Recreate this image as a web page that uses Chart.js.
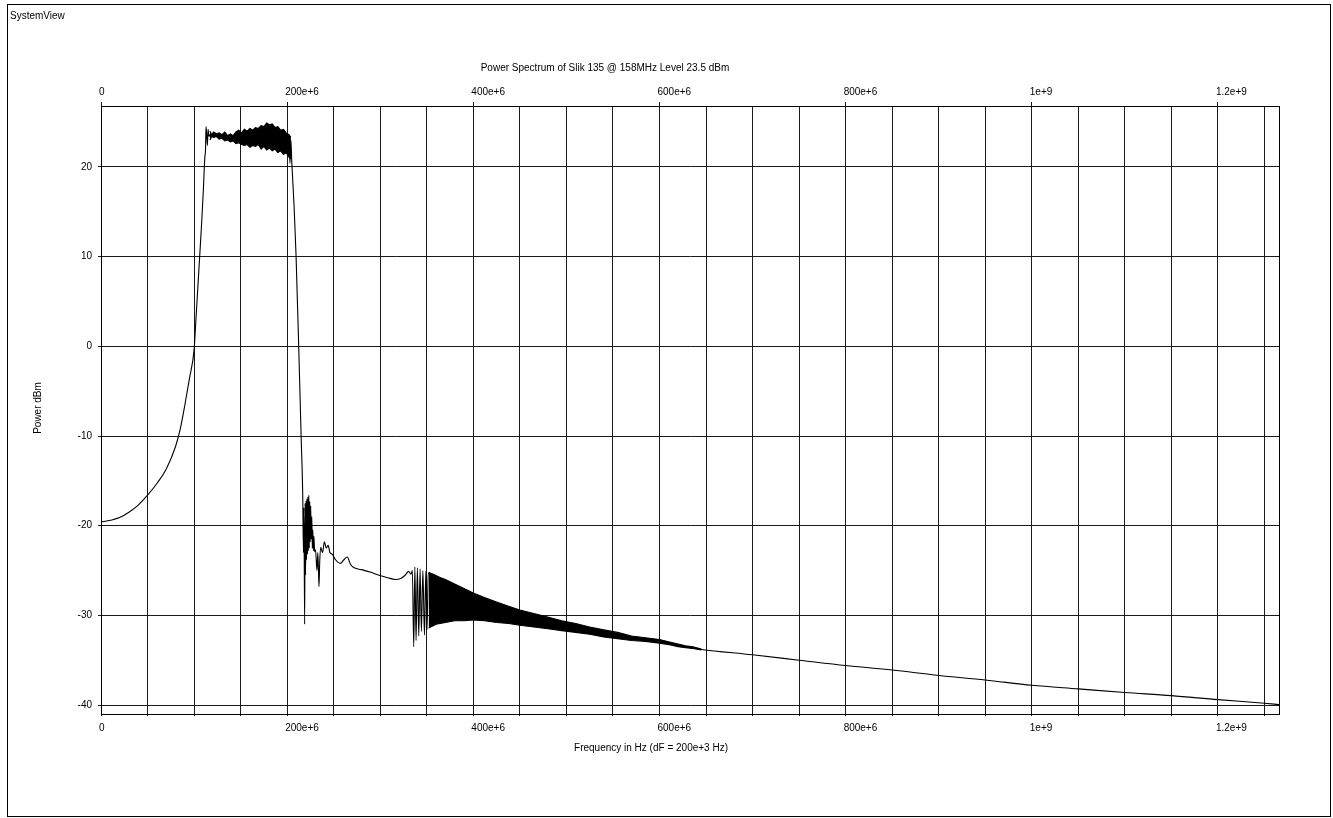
<!DOCTYPE html>
<html>
<head>
<meta charset="utf-8">
<script src="https://cdn.jsdelivr.net/npm/chart.js@4/dist/chart.umd.min.js"></script>
<style>
html,body{margin:0;padding:0;background:#fff;overflow:hidden;}
canvas{display:block;}
</style>
</head>
<body>
<canvas id="c" width="1333" height="818"></canvas>
<script>
// ---- texts ----
const appLabel = 'SystemView';
const chartTitle = 'Power Spectrum of Slik 135 @ 158MHz Level 23.5 dBm';
const xTitle = 'Frequency in Hz (dF = 200e+3 Hz)';
const yTitle = 'Power dBm';

// ---- axis ticks ----
const xTickValues = [0, 200e6, 400e6, 600e6, 800e6, 1e9, 1.2e9];
const xTickLabels = ['0', '200e+6', '400e+6', '600e+6', '800e+6', '1e+9', '1.2e+9'];
const yTickValues = [20, 10, 0, -10, -20, -30, -40];
const yTickLabels = ['20', '10', '0', '-10', '-20', '-30', '-40'];

// ---- main trace (frequency in MHz, power in dBm) ----
const mainFreqMHz = [
  0,10,20,30,40,50,60,70,80,85,90,95,100,102,104,106,108,110,111.5,112.3,112.8,113.5,114.3,115,116,117,
  130,160,190,200,202,203,204,205,207.5,209.6,212.4,215,216.7,
  217.5,218,218.8,219.3,219.8,220.3,220.8,221.3,221.8,222.3,222.8,223.3,223.8,224.3,224.8,225.3,225.8,226.5,227,227.6,228.2,228.8,229.5,230.5,232,233,234.2,235,236,238,240,242,244,246,248.5,
  252,257,261,264.5,268,272,280,290,298,308,316,322,327,330.5,333,
  334.5,336,337.2,338.5,339.9,341.4,342.8,344.2,345.8,347.5,349,350.3,351.5,
  400,450,500,550,600,626,
  645,700,750,800,850,900,950,1000,1050,1100,1150,1200,1250,1265.6
];
const mainPower = [
  -19.6,-19.4,-19.1,-18.5,-17.7,-16.6,-15.3,-13.7,-11.2,-9.3,-6.6,-3.6,-0.4,3,6.5,10,13.5,17.5,21,22,24.5,23.6,22.4,24.2,23.4,23.6,
  23.4,23.3,23.2,22.7,23.4,20.4,23.0,20.5,15.5,10,0,-10,-16.4,
  -23,-18,-31.0,-17.5,-25.5,-17.2,-23.8,-17.0,-23.2,-16.8,-22.8,-16.6,-22.5,-17.3,-21.8,-17.8,-21.5,-19,-22.5,-20.5,-22.8,-21.2,-22.9,-22.7,-25,-23,-26.8,-24,-22.4,-23,-21.8,-22.5,-22.2,-23,-23.2,
  -23.8,-24.2,-23.8,-23.5,-24.3,-24.7,-24.9,-25.2,-25.5,-25.8,-26.0,-25.9,-25.5,-25.1,-25.4,
  -25.0,-33.5,-24.6,-32.8,-24.7,-32.3,-24.8,-31.8,-25.0,-32.2,-25.1,-31.6,-25.3,
  -29.0,-30.3,-31.3,-32.2,-32.9,-33.5,
  -33.8,-34.4,-35.0,-35.6,-36.1,-36.7,-37.2,-37.8,-38.2,-38.6,-38.95,-39.4,-39.8,-39.95
];

// ---- passband noise envelope ----
const passFreqMHz = [117,119,121,124,127,130,133,136,139,142,145,148,151,154,157,160,163,166,169,172,175,178,181,184,187,190,193,196,199,202,204];
const passUpper = [24.0,23.6,23.9,23.7,23.8,23.6,23.9,23.5,23.7,23.5,23.9,24.1,23.8,24.2,24.0,24.3,24.1,24.4,24.3,24.6,24.5,24.9,24.7,24.8,24.4,24.5,24.1,24.2,23.8,23.6,23.3];
const passLower = [23.0,23.4,23.3,23.4,23.1,23.2,22.9,23.0,22.8,22.9,22.6,22.7,22.5,22.4,22.5,22.2,22.4,22.3,22.5,22.0,22.3,21.9,22.1,21.8,22.0,21.6,21.8,21.4,21.6,21.1,20.9];

// ---- spurious-band noise envelope ----
const bandFreqMHz = [352,360,370,380,390,400,412,425,438,450,465,480,495,510,525,540,555,570,585,600,612,620,628,636,645];
const bandUpper = [-25.2,-25.6,-26.0,-26.5,-27.0,-27.5,-28.0,-28.5,-29.0,-29.4,-29.8,-30.2,-30.6,-30.9,-31.3,-31.6,-31.9,-32.3,-32.5,-32.7,-33.0,-33.2,-33.4,-33.5,-33.75];
const bandLower = [-31.4,-31.0,-30.8,-30.6,-30.6,-30.5,-30.6,-30.8,-30.9,-31.1,-31.3,-31.5,-31.7,-31.9,-32.1,-32.4,-32.6,-32.8,-32.9,-33.1,-33.3,-33.5,-33.6,-33.7,-33.85];

const toPts = (f, v) => f.map((x, i) => ({x: x * 1e6, y: v[i]}));

Chart.defaults.font.family = '"Liberation Sans", Arial, sans-serif';
Chart.defaults.font.size = 10;
Chart.defaults.color = '#000';

const lineStyle = {borderColor: '#000', borderWidth: 1.1, pointRadius: 0, tension: 0, fill: false};

const textPlugin = {
  id: 'texts',
  afterDraw(chart) {
    const ctx = chart.ctx, a = chart.chartArea;
    ctx.save();
    ctx.strokeStyle = '#000';
    ctx.lineWidth = 1;
    ctx.strokeRect(Math.round(a.left) + 0.5, Math.round(a.top) + 0.5, Math.round(a.right - a.left), Math.round(a.bottom - a.top));
    ctx.strokeRect(7.5, 4.5, 1323, 812);
    ctx.fillStyle = '#000';
    ctx.font = '10px "Liberation Sans", Arial, sans-serif';
    ctx.textBaseline = 'middle';
    ctx.textAlign = 'left';
    ctx.fillText(appLabel, 10, 16);
    ctx.textAlign = 'center';
    ctx.fillText(chartTitle, 605, 68);
    ctx.fillText(xTitle, 651, 748);
    ctx.translate(38.5, 408);
    ctx.rotate(-Math.PI / 2);
    ctx.fillText(yTitle, 0, 0);
    ctx.restore();
  }
};

const xMin = 0, xMax = 1265.6e6;
const gridColor = '#1a1a1a';

new Chart(document.getElementById('c'), {
  type: 'line',
  data: {
    datasets: [
      Object.assign({}, lineStyle, {label: 'Power', data: toPts(mainFreqMHz, mainPower), cubicInterpolationMode: 'monotone'}),
      Object.assign({label: 'pass hi', data: toPts(passFreqMHz, passUpper)}, lineStyle),
      Object.assign({}, lineStyle, {label: 'pass lo', data: toPts(passFreqMHz, passLower), fill: '-1', backgroundColor: '#000'}),
      Object.assign({label: 'band hi', data: toPts(bandFreqMHz, bandUpper)}, lineStyle),
      Object.assign({}, lineStyle, {label: 'band lo', data: toPts(bandFreqMHz, bandLower), fill: '-1', backgroundColor: '#000'})
    ]
  },
  options: {
    responsive: false,
    animation: false,
    devicePixelRatio: 1,
    layout: {padding: {left: 41, right: 54, top: 76, bottom: 74}},
    plugins: {legend: {display: false}, tooltip: {enabled: false}, title: {display: false}},
    scales: {
      x: {
        type: 'linear', position: 'bottom', min: xMin, max: xMax,
        afterBuildTicks: s => { const t = []; for (let v = 0; v <= 1250e6; v += 50e6) t.push({value: v}); s.ticks = t; },
        afterFit: s => { s.height = 30; },
        grid: {color: gridColor, lineWidth: 1, tickLength: 2, drawOnChartArea: true},
        border: {display: true, color: '#000'},
        ticks: {
          autoSkip: false, maxRotation: 0, minRotation: 0, align: 'start', padding: 6, labelOffset: -2,
          callback: v => { const i = xTickValues.findIndex(t => Math.abs(t - v) < 1); return i >= 0 ? xTickLabels[i] : ''; }
        }
      },
      xTop: {
        type: 'linear', position: 'top', min: xMin, max: xMax,
        afterBuildTicks: s => { s.ticks = xTickValues.map(v => ({value: v})); },
        afterFit: s => { s.height = 30; },
        grid: {color: gridColor, lineWidth: 1, tickLength: 4, drawOnChartArea: false},
        border: {display: true, color: '#000'},
        ticks: {
          autoSkip: false, maxRotation: 0, minRotation: 0, align: 'start', padding: 4, labelOffset: -2,
          callback: v => { const i = xTickValues.findIndex(t => Math.abs(t - v) < 1); return i >= 0 ? xTickLabels[i] : ''; }
        }
      },
      y: {
        type: 'linear', position: 'left', min: -41, max: 26.8,
        afterBuildTicks: s => { s.ticks = yTickValues.map(v => ({value: v})); },
        afterFit: s => { s.width = 60; },
        grid: {color: gridColor, lineWidth: 1, tickLength: 3},
        border: {display: true, color: '#000'},
        ticks: {
          autoSkip: false, padding: 6,
          callback: v => { const i = yTickValues.indexOf(v); return i >= 0 ? yTickLabels[i] : ''; }
        }
      }
    }
  },
  plugins: [textPlugin]
});
</script>
</body>
</html>
